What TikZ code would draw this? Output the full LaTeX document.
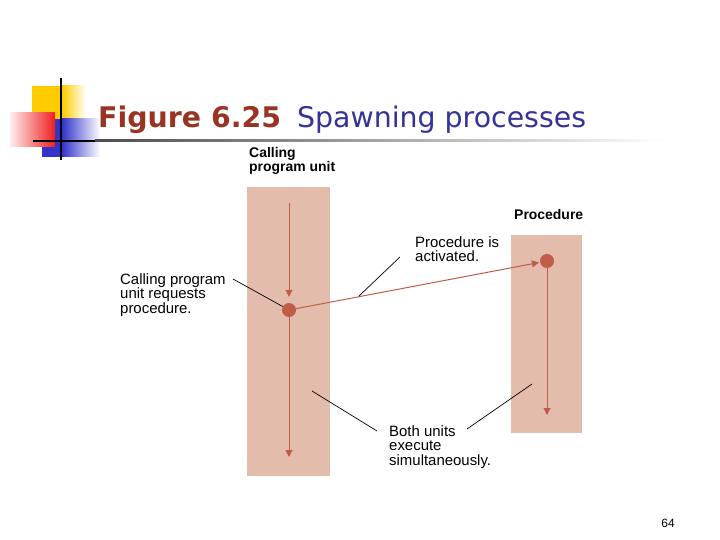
\documentclass[tikz,border=0pt]{standalone}
\usepackage{fontspec}
\setmainfont{Liberation Sans}
\newfontfamily\titlefont{DejaVu Sans}
\usetikzlibrary{arrows.meta}
\definecolor{columnpink}{RGB}{228,188,172}
\definecolor{flowred}{RGB}{192,92,72}
\definecolor{titlered}{RGB}{153,51,34}
\definecolor{titleblue}{RGB}{51,51,153}
\definecolor{decoyellow}{RGB}{255,204,0}
\definecolor{decored}{RGB}{240,30,30}
\definecolor{decoblue}{RGB}{51,51,204}

\begin{document}
\begin{tikzpicture}[x=1bp,y=-1bp,
    flow/.style={flowred,line width=1bp,-{Triangle[length=7bp,width=7bp]}},
    leader/.style={black,line width=0.7bp},
    label/.style={align=left,font=\fontsize{15}{15}\selectfont,inner sep=0pt},
    header/.style={align=left,font=\fontsize{14}{14}\selectfont\bfseries,inner sep=0pt},
    column/.style={fill=columnpink,inner sep=0pt,anchor=north west},
    dot/.style={circle,fill=flowred,minimum size=14bp,inner sep=0pt}]
    \useasboundingbox (0,0) rectangle (720,540);
    \fill[white] (0,0) rectangle (720,540);

    % Corner decoration
    \fill[decoyellow] (32,86) rectangle (62,119);
    \shade[left color=decoyellow,right color=white] (62,86) rectangle (86,119);
    \fill[decoblue] (42,119) rectangle (62,157);
    \shade[left color=decoblue,right color=white] (62,119) rectangle (100,157);
    \shade[left color=decored!8,right color=decored] (10,113) rectangle (55,147);
    \draw[black,line width=2.5bp] (61,78) -- (61,160);
    \draw[black,line width=2bp] (33,141) -- (95,141);
    \shade[left color=black!70,right color=white] (95,140) rectangle (665,142);

    % Title
    \node[anchor=base west,inner sep=0pt,font=\titlefont\fontsize{28.5}{32}\selectfont] (title) at (98,128)
        {\textcolor{titlered}{\bfseries Figure 6.25}\hspace{16bp}\textcolor{titleblue}{Spawning processes}};

    % Columns
    \node[column,minimum width=83bp,minimum height=289bp] (caller) at (247,187) {};
    \node[column,minimum width=71bp,minimum height=198bp] (procedure) at (511,235) {};
    \node[header,anchor=north west] (callerHead) at (249,147) {Calling\\program unit};
    \node[header,anchor=north west] (procHead) at (514,209) {Procedure};

    % Flow of control
    \node[dot] (call) at (289,310) {};
    \node[dot] (start) at (547,261) {};
    \coordinate (callTop) at (289,203);
    \coordinate (callEnd) at (289,457);
    \coordinate (procEnd) at (547,415);
    \draw[flow,shorten >=6bp] (callTop) -- (call);
    \draw[flow] (call) -- (callEnd);
    \draw[flow,shorten >=1bp] (call) -- (start);
    \draw[flow] (start) -- (procEnd);

    % Labels
    \node[label,anchor=north west] (requestText) at (120,273) {Calling program\\unit requests\\procedure.};
    \node[label,anchor=north west] (activeText) at (415,236) {Procedure is\\activated.};
    \node[label,anchor=north west] (bothText) at (389,425) {Both units\\execute\\simultaneously.};
    \node[font=\fontsize{12}{12}\selectfont,inner sep=0pt] (pageNum) at (668,523) {64};

    % Leaders
    \coordinate (requestTip) at (233,279);
    \coordinate (activeTip) at (400,257);
    \coordinate (activeEnd) at (359,296);
    \coordinate (bothTipL) at (377,431);
    \coordinate (bothEndL) at (312,391);
    \coordinate (bothTipR) at (467,429);
    \coordinate (bothEndR) at (532,384);
    \draw[leader] (requestTip) -- (call);
    \draw[leader] (activeTip) -- (activeEnd);
    \draw[leader] (bothTipL) -- (bothEndL);
    \draw[leader] (bothTipR) -- (bothEndR);
\end{tikzpicture}
\end{document}
